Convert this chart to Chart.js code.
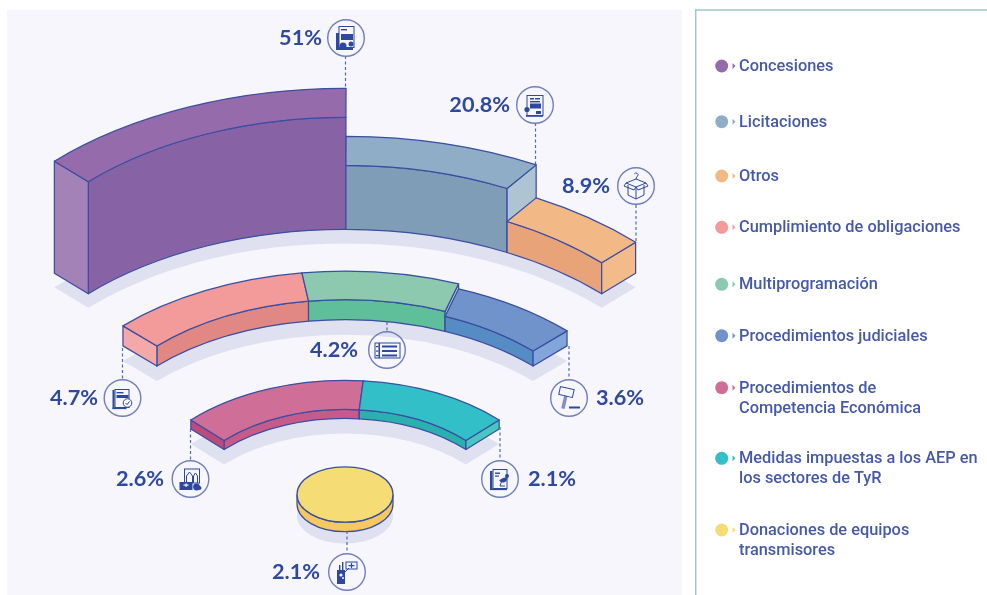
<!DOCTYPE html>
<html>
<head>
<meta charset="utf-8">
<style>html,body{margin:0;padding:0;background:#fff}canvas{display:block}</style>
<script src="https://cdn.jsdelivr.net/npm/chart.js@4/dist/chart.umd.js"></script>
</head>
<body>
<canvas id="c" width="987" height="595"></canvas>
<script>
// ---- data ----
const categories = [
  ['Concesiones'], ['Licitaciones'], ['Otros'], ['Cumplimiento de obligaciones'],
  ['Multiprogramación'], ['Procedimientos judiciales'],
  ['Procedimientos de', 'Competencia Económica'],
  ['Medidas impuestas a los AEP en', 'los sectores de TyR'],
  ['Donaciones de equipos', 'transmisores']
];
const ringOuter  = [51, 20.8, 8.9];
const ringMiddle = [4.7, 4.2, 3.6];
const ringInner  = [2.6, 2.1];
const ringCore   = [2.1];

// ---- styles & layout ----
const INK = '#3a4ea3', SHADOW = '#dfe0f0', PANEL = '#f6f6fc', TEXT = '#4559a9', LABEL = '#2f48a0';
const topColors  = ['#966bab','#8fadc7','#f2b987','#f39b9a','#8cc9ae','#7193cc','#cf6f97','#32bfc7','#f6dc74'];
const wallColors = ['#8763a6','#7f9db7','#e9a378','#e28884','#5fbf9a','#558cc4','#c65a89','#2bb0b0','#f6c85f'];
const endColors  = ['#a382b8','#aec4d2','#f3bb89','#f4a9a8','#b5e0cf','#82a6db','#bd4a7c','#48c6c1','#f6c85f'];
const legendY = [66, 121.7, 176, 227.3, 284.3, 335.7, 387.7, 458.3, 530];
const callouts = [
  {i:0, cx:346, cy:38,  y0:56,  y1:89,  lx:345.5, tx:322, al:'right', icon:'device'},
  {i:1, cx:535, cy:105, y0:123, y1:164, lx:535.5, tx:510, al:'right', icon:'tender'},
  {i:2, cx:636, cy:186, y0:205, y1:241, lx:636, tx:610, al:'right', icon:'box'},
  {i:3, cx:122.5, cy:398, y0:348, y1:379, lx:122.5, tx:98, al:'right', icon:'check'},
  {i:4, cx:387, cy:350, y0:322, y1:332, lx:387, tx:358, al:'right', icon:'table'},
  {i:5, cx:569, cy:398, y0:346, y1:379, lx:569, tx:596, al:'left', icon:'gavel'},
  {i:6, cx:190.5, cy:479, y0:429, y1:461, lx:190.5, tx:164, al:'right', icon:'market'},
  {i:7, cx:500, cy:479, y0:427, y1:461, lx:500, tx:528, al:'left', icon:'antenna'},
  {i:8, cx:347, cy:572, y0:531, y1:553, lx:347, tx:320, al:'right', icon:'radio'}
];

// ---- controller: a doughnut whose rings are drawn as extruded isometric slabs ----
class IsoRing extends Chart.DoughnutController {
  parse(start, count) {
    super.parse(start, count);
    const p = this.getDataset().sweepPower || 1, parsed = this._cachedMeta._parsed;
    for (let i = start; i < start + count; i++) parsed[i] = Math.pow(parsed[i], p);
  }
  draw() {
    const ds = this.getDataset();
    if (!ds.data.length) return;
    const ctx = this._ctx, k = ds.tilt, ox = ds.originX, oy = ds.originY;
    const arcs = this._cachedMeta.data.map((el, i) => ({el, i})).filter(a => a.el.endAngle - a.el.startAngle > 1e-4);
    const rad = Math.PI / 180;
    const skewO = ds.skewOuter || [], skewI = ds.skewInner || [];
    const outer = (a0, a1, R, dy, ccw) => ctx.ellipse(ox, oy + dy, R, R * k, 0, a0, a1, !!ccw);
    const pt = (a, R, dy) => [ox + R * Math.cos(a), oy + dy + R * k * Math.sin(a)];
    const finish = (fill) => { ctx.fillStyle = fill; ctx.fill(); ctx.stroke(); };
    ctx.save();
    ctx.lineJoin = 'round';
    ctx.lineWidth = 1.25;
    ctx.strokeStyle = INK;
    // ground shadow
    const first = arcs[0].el, last = arcs[arcs.length - 1].el;
    ctx.beginPath();
    if (first.innerRadius < 1) {
      outer(0, Math.PI * 2, first.outerRadius, ds.shadow);
    } else {
      outer(first.startAngle, last.endAngle, first.outerRadius, ds.shadow);
      outer(last.endAngle, first.startAngle, first.innerRadius, ds.shadow, true);
      ctx.closePath();
    }
    ctx.fillStyle = SHADOW;
    ctx.fill();
    arcs.forEach(({el, i}, n) => {
      const s = el.startAngle, e = el.endAngle, Ro = el.outerRadius, Ri = el.innerRadius;
      const d = ds.depth[n];
      const so = s + (skewO[n - 1] || 0) * rad, eo = e + (skewO[n] || 0) * rad;
      const si = s + (skewI[n - 1] || 0) * rad, ei = e + (skewI[n] || 0) * rad;
      if (Ri < 1) { // solid disc
        ctx.beginPath();
        outer(0, Math.PI, Ro, 0);
        outer(Math.PI, 0, Ro, -d, true);
        ctx.closePath();
        finish(wallColors[i]);
        ctx.beginPath();
        outer(0, Math.PI * 2, Ro, -d);
        ctx.closePath();
        finish(topColors[i]);
        return;
      }
      // inner wall, facing the viewer
      ctx.beginPath();
      outer(si, ei, Ri, -d);
      outer(ei, si, Ri, 0, true);
      ctx.closePath();
      finish(wallColors[i]);
      // end faces
      const face = (ai, ao, col) => {
        const p = [pt(ai, Ri, -d), pt(ao, Ro, -d), pt(ao, Ro, 0), pt(ai, Ri, 0)];
        ctx.beginPath();
        p.forEach((q, j) => j ? ctx.lineTo(q[0], q[1]) : ctx.moveTo(q[0], q[1]));
        ctx.closePath();
        finish(col);
      };
      if (n === 0 && Math.cos(s) < -0.02) face(si, so, endColors[i]);
      if (Math.cos(e) > 0.02) face(ei, eo, endColors[i]);
      // top face
      ctx.beginPath();
      outer(so, eo, Ro, -d);
      outer(eo, so, Ro, -d); // keep the path continuous at the outer rim
      ctx.beginPath();
      outer(so, eo, Ro, -d);
      outer(ei, si, Ri, -d, true);
      ctx.closePath();
      finish(topColors[i]);
    });
    ctx.restore();
  }
}
IsoRing.id = 'isoRing';
Chart.register(IsoRing);

// ---- small line icons inside the callout circles ----
const ICON = '#2d48a0';
function rr(c, x, y, w, h) { c.strokeRect(x, y, w, h); }
function fr(c, x, y, w, h) { c.fillRect(x, y, w, h); }
function poly(c, pts, fill) {
  c.beginPath();
  pts.forEach((p, j) => j ? c.lineTo(p[0], p[1]) : c.moveTo(p[0], p[1]));
  if (fill) { c.closePath(); c.fill(); } else c.stroke();
}
function dot(c, x, y, r) { c.beginPath(); c.arc(x, y, r, 0, 7); c.fill(); }
const icons = {
  device(c) {
    rr(c, -7, -11.5, 15, 21); fr(c, -10, -5, 3, 17); fr(c, -10, 10, 17, 2);
    fr(c, -5, -4, 12, 6); fr(c, -5, -9, 6, 1.4); dot(c, -3, 8, 3.5); dot(c, 5, 6, 2.5);
  },
  tender(c) {
    rr(c, -8, -9.5, 16, 20); fr(c, -5, -7, 4, 1.5); fr(c, 0, -7, 5, 1.5); fr(c, -5, -4, 10, 1.4);
    fr(c, -5, -1.5, 11, 5); fr(c, -9, 10, 17, 1.8); dot(c, -8, 4.5, 2.6); fr(c, 1, 6, 5, 3);
  },
  box(c) {
    poly(c, [[-10, -3], [0, -7], [10, -3], [0, 1], [-10, -3]]);
    poly(c, [[-8, -1], [-8, 9], [0, 13], [8, 9], [8, -1]]);
    poly(c, [[0, 1], [0, 13]]);
    poly(c, [[-10, -3], [-12, 0], [-2, 4], [0, 1], [2, 4], [12, 0], [10, -3]]);
    c.beginPath(); c.arc(0, -11, 2, -2.6, 1.2); c.lineTo(0, -7); c.stroke();
  },
  table(c) {
    rr(c, -12, -7, 25, 15); fr(c, -8.5, -7, 1.5, 15);
    for (let j = 0; j < 3; j++) { fr(c, -5, -4.5 + j * 4.5, 15, 2); fr(c, -11, -4 + j * 4.5, 2.5, 1.2); }
  },
  check(c) {
    rr(c, -7.5, -8.5, 14, 18); fr(c, -10, -8, 2, 19); fr(c, -10, 9.5, 14, 1.6);
    fr(c, -6, -6, 7, 1.4); fr(c, -6, -3, 12, 3);
    c.beginPath(); c.arc(5, 5, 4.3, 0, 7); c.fillStyle = PANEL; c.fill(); c.stroke();
    c.fillStyle = ICON; poly(c, [[3, 5], [4.6, 6.6], [7, 3.4]]);
  },
  gavel(c) {
    c.save(); c.translate(-3, -4); c.rotate(0.22);
    c.fillStyle = '#7f8fc9'; fr(c, -1.5, 0, 3.4, 15);
    c.fillStyle = PANEL; c.fillRect(-7, -6, 14, 8); c.strokeRect(-7, -6, 14, 8);
    c.restore();
    c.fillStyle = ICON; fr(c, 0, 8.5, 11, 2);
  },
  market(c) {
    rr(c, -6, -10, 15, 14);
    poly(c, [[-4, 4], [-4, -3], [-1, -7], [2, -3], [2, 4]]);
    poly(c, [[3, 4], [3, -3], [5, -6], [7, -3], [7, 4]]);
    fr(c, -11, 3, 13, 8); dot(c, 6, 8, 3.4); dot(c, 9, 9, 2);
    c.fillStyle = PANEL; fr(c, -7, 5.5, 5, 1.2); fr(c, -5, 4.5, 1.2, 3.4);
  },
  antenna(c) {
    rr(c, -7, -9.5, 14, 19); fr(c, -10, -8, 2.4, 19); fr(c, -10, 9.5, 17, 1.6);
    fr(c, -5, -6.5, 5, 1.4); fr(c, -5, -3.5, 4, 1.2);
    c.beginPath(); c.arc(3, -1, 4.5, -0.2, 2.6); c.lineTo(3, -1); c.closePath(); c.fill();
    poly(c, [[2, 1], [0, 7], [5, 7]]); dot(c, 7, -3, 2);
  },
  radio(c) {
    fr(c, -10, -2, 8, 14); fr(c, -8, -7, 1.4, 5); fr(c, -5, -10, 1.4, 8);
    poly(c, [[-10, 0], [-2, 0], [2, -4]]);
    c.fillStyle = PANEL; dot(c, -6, 3, 1.6); dot(c, -4, 6, 1);
    c.fillStyle = ICON; rr(c, -1, -10, 11, 7);
    fr(c, 1.5, -7, 6, 1.2); fr(c, 3.9, -9, 1.2, 5);
  }
};

// ---- panel, callouts and legend ----
const decor = {
  id: 'decor',
  beforeDatasetsDraw(chart) {
    const c = chart.ctx;
    c.save();
    c.fillStyle = '#fff'; c.fillRect(0, 0, 987, 595);
    c.fillStyle = PANEL; c.fillRect(7, 10, 675, 585);
    c.strokeStyle = '#9fc6c6'; c.lineWidth = 1.5;
    c.beginPath(); c.moveTo(695.7, 595); c.lineTo(695.7, 10); c.lineTo(987, 10); c.stroke();
    c.restore();
  },
  afterDatasetsDraw(chart) {
    const c = chart.ctx;
    const values = [...ringOuter, ...ringMiddle, ...ringInner, ...ringCore];
    c.save();
    callouts.forEach(o => {
      c.setLineDash([3, 2.5]); c.lineWidth = 1.2; c.strokeStyle = '#5468ae';
      c.beginPath(); c.moveTo(o.lx, o.y0); c.lineTo(o.lx, o.y1); c.stroke();
      c.setLineDash([]);
      c.lineWidth = 1.4; c.strokeStyle = '#6f7fbe';
      c.beginPath(); c.arc(o.cx, o.cy, 18.3, 0, 7); c.stroke();
      c.save();
      c.translate(o.cx, o.cy);
      c.lineWidth = 1; c.strokeStyle = ICON; c.fillStyle = ICON;
      icons[o.icon](c);
      c.restore();
      c.fillStyle = LABEL;
      c.font = '700 21.7px Lato';
      c.textAlign = o.al; c.textBaseline = 'middle';
      c.fillText(values[o.i] + '%', o.tx, o.cy + 0.5);
    });
    // legend
    categories.forEach((lines, i) => {
      const y = legendY[i];
      c.fillStyle = topColors[i];
      c.beginPath(); c.arc(721.7, y, 6.5, 0, 7); c.fill();
      c.beginPath(); c.moveTo(732.5, y - 3); c.lineTo(735.5, y); c.lineTo(732.5, y + 3); c.closePath(); c.fill();
      c.fillStyle = TEXT;
      c.font = '500 16.35px Roboto';
      c.textAlign = 'left'; c.textBaseline = 'middle';
      lines.forEach((t, j) => c.fillText(t, 739, y + 0.8 + j * 20));
    });
    c.restore();
  }
};

function padded(ring, offset) {
  return categories.map((_, i) => (i >= offset && i < offset + ring.length) ? ring[i - offset] : 0);
}
const base = {radius: 411, cutout: 0, rotation: -45, circumference: 90, originX: 345};
const spacer = w => Object.assign({}, base, {data: [], weight: w});

new Chart(document.getElementById('c'), {
  type: 'isoRing',
  data: {
    labels: categories,
    datasets: [
      Object.assign({}, base, {data: padded(ringOuter, 0), weight: 48, sweepPower: 0.55, tilt: 0.605, originY: 449, depth: [112, 64, 31], shadow: 14, skewInner: [0, -1.2, 0]}),
      spacer(49),
      Object.assign({}, base, {data: padded(ringMiddle, 3), weight: 48, sweepPower: 1.74, tilt: 0.595, originY: 478, depth: [20, 20, 15], shadow: 15, skewOuter: [0.4, -0.7, 0], skewInner: [0.4, 0.2, 0]}),
      spacer(48),
      Object.assign({}, base, {data: padded(ringInner, 6), weight: 47, tilt: 0.62, originY: 524.5, depth: [9, 9], shadow: 15}),
      spacer(123),
      Object.assign({}, base, {data: padded(ringCore, 8), weight: 48, rotation: 0, circumference: 360, tilt: 0.577, originY: 504, depth: [9.5], shadow: 12})
    ]
  },
  options: {
    responsive: false,
    animation: false,
    events: [],
    layout: {padding: 0},
    plugins: {legend: {display: false}, tooltip: {enabled: false}}
  },
  plugins: [decor]
});
</script>
</body>
</html>
